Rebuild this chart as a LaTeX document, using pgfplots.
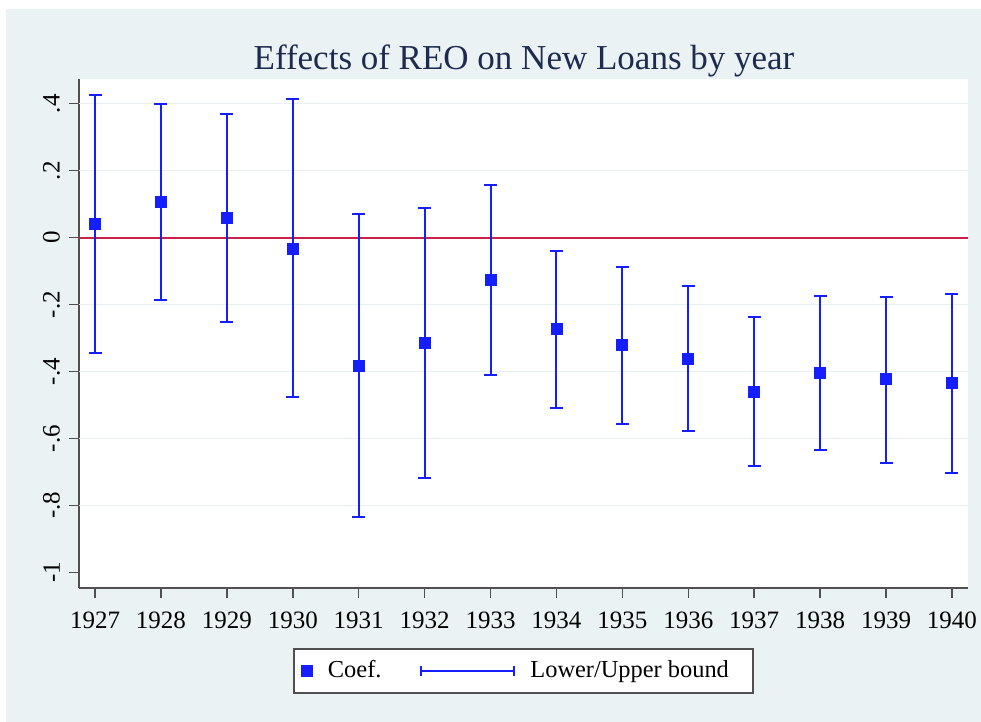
\documentclass[border=0pt]{standalone}
\usepackage{pgfplots}
\usepackage{pgfplotstable}
\pgfplotsset{compat=1.18}
\usepackage{fontspec}
\setmainfont{Liberation Serif}
\definecolor{bg}{RGB}{234,242,243}
\definecolor{gridc}{RGB}{232,240,242}
\definecolor{ciblue}{RGB}{20,30,255}
\definecolor{zred}{RGB}{200,35,70}
\definecolor{axgray}{RGB}{80,80,80}
\definecolor{titlenavy}{RGB}{30,42,78}

\pgfplotstableread{
year coef lo hi
1927 0.041 -0.345 0.427
1928 0.106 -0.185 0.398
1929 0.059 -0.252 0.369
1930 -0.033 -0.476 0.413
1931 -0.383 -0.836 0.069
1932 -0.315 -0.719 0.088
1933 -0.126 -0.411 0.158
1934 -0.274 -0.510 -0.040
1935 -0.322 -0.557 -0.088
1936 -0.361 -0.577 -0.145
1937 -0.460 -0.681 -0.237
1938 -0.405 -0.635 -0.173
1939 -0.423 -0.672 -0.176
1940 -0.435 -0.703 -0.168
}\data

\begin{document}
\begin{tikzpicture}
\path[use as bounding box, fill=white] (0pt,0pt) rectangle (490.5pt,361pt);
\fill[bg] (3pt,0pt) rectangle (490.5pt,356.5pt);
\node[anchor=base, inner sep=0pt, font=\fontsize{17.5}{20}\selectfont, text=titlenavy] at (262pt,326pt) {Effects of REO on New Loans by year};
\begin{axis}[
  at={(39.5pt,67pt)}, anchor=south west,
  scale only axis, width=444.5pt, height=254.5pt,
  xmin=1926.757, xmax=1940.243, ymin=-1.0466, ymax=0.4737,
  axis x line*=bottom, axis y line*=left,
  every outer x axis line/.append style={-},
  every outer y axis line/.append style={-},
  axis line style={-, draw=axgray, line width=0.75pt},
  axis background/.style={fill=white},
  tick align=outside, major tick length=5pt,
  tick style={draw=axgray, line width=0.75pt},
  xtick={1927,1928,1929,1930,1931,1932,1933,1934,1935,1936,1937,1938,1939,1940},
  xticklabels={1927,1928,1929,1930,1931,1932,1933,1934,1935,1936,1937,1938,1939,1940},
  ytick={-1,-0.8,-0.6,-0.4,-0.2,0,0.2,0.4},
  yticklabels={-1,-.8,-.6,-.4,-.2,0,.2,.4},
  yticklabel style={rotate=90, anchor=south},
  xticklabel shift=3.5pt,
  yticklabel shift=1pt,
  ticklabel style={font=\fontsize{12.5}{14}\selectfont, text=black},
  extra y ticks={-0.8,-0.6,-0.4,-0.2,0.2,0.4},
  extra y tick labels={},
  extra y tick style={grid=major, major tick length=0pt, grid style={draw=gridc, line width=0.75pt}},
  legend columns=2,
  legend style={at={(0.5,-0.1179)}, anchor=north, draw=axgray, line width=0.75pt, fill=white,
    font=\fontsize{12.2}{14}\selectfont, inner xsep=3.5pt, inner ysep=4pt,
    /tikz/every odd column/.append style={column sep=5.7pt},
    /tikz/every even column/.append style={column sep=17.5pt}},
]
\addplot[zred, line width=1pt, forget plot] coordinates {(1926.757,0) (1940.243,0)};
\addplot[only marks, mark=square*, mark size=2.75pt, ciblue, mark options={fill=ciblue, draw=ciblue},
  legend image code/.code={\fill[ciblue] (0pt,-2.5pt) rectangle (5pt,2.5pt);}]
  table[x=year, y=coef] {\data};
\addlegendentry{Coef.}
\addplot[only marks, mark=none, ciblue,
  legend image code/.code={\draw[ciblue, line width=0.75pt] (0pt,0pt) -- (46.5pt,0pt) (0pt,-2.5pt) -- (0pt,2.5pt) (46.5pt,-2.5pt) -- (46.5pt,2.5pt);},
  error bars/.cd, y dir=both, y explicit,
  error bar style={line width=1pt, ciblue},
  error mark options={rotate=90, mark size=3.25pt, line width=1pt, ciblue}]
  table[x=year, y=coef, y error plus expr=\thisrow{hi}-\thisrow{coef}, y error minus expr=\thisrow{coef}-\thisrow{lo}] {\data};
\addlegendentry{Lower/Upper bound\hspace*{6.5pt}}
\end{axis}
\end{tikzpicture}
\end{document}
